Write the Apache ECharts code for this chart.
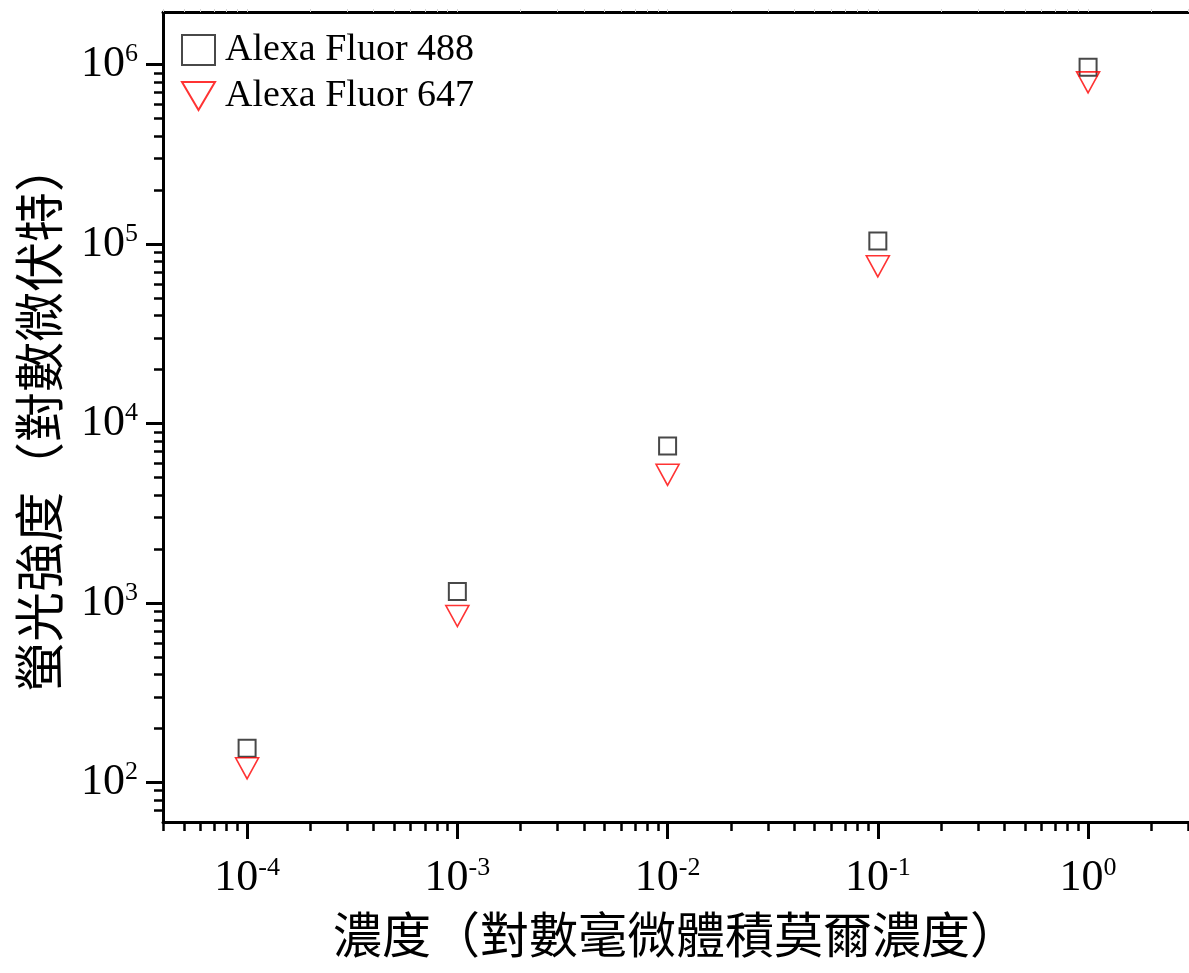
<!DOCTYPE html>
<html>
<head>
<meta charset="utf-8">
<script src="https://cdn.jsdelivr.net/npm/echarts@6.0.0/dist/echarts.min.js"></script>
<style>
  html, body { margin: 0; padding: 0; background: #fff; }
  #chart { width: 1189px; height: 973px; }
</style>
</head>
<body>
<div id="chart"></div>
<script>
// Concentrations (mM) and measured fluorescence intensities (µV)
const concentrations = [1e-4, 1e-3, 1e-2, 1e-1, 1];
const alexa488 = [155, 1160, 7500, 104000, 965000];
const alexa647 = [120, 847, 5180, 75200, 796000];
const seriesNames = ['Alexa Fluor 488', 'Alexa Fluor 647'];

// Decade exponents that get a labelled major tick
const xTickExponents = [-4, -3, -2, -1, 0];
const yTickExponents = [2, 3, 4, 5, 6];

const xTitle = '濃度（對數毫微體積莫爾濃度）';
const yTitle = '螢光強度（對數微伏特）';

// Both axes are drawn in log10 space
const X_MIN = -4.4, X_MAX = 0.48;
const Y_MIN = 1.78, Y_MAX = 6.293;

const SERIF = '"Liberation Serif", "Times New Roman", serif';
const CJK = '"Noto Sans CJK TC", "Noto Sans CJK SC", sans-serif';

// log-spaced minor ticks (2..9 × 10^n) inside [lo, hi]
function minorTicks(lo, hi) {
  const out = [];
  for (let d = Math.floor(lo) - 1; d <= Math.ceil(hi); d++) {
    for (let k = 2; k <= 9; k++) {
      const v = d + Math.log10(k);
      if (v > lo && v < hi) out.push(v);
    }
  }
  return out;
}

const toPoints = vals => concentrations.map((c, i) => [Math.log10(c), Math.log10(vals[i])]);

const powerLabel = (values, margin) => ({
  show: true,
  customValues: values,
  margin: margin,
  formatter: v => '{b|10}{s|' + Math.round(v) + '}',
  rich: {
    b: { fontFamily: SERIF, fontSize: 44, lineHeight: 46, verticalAlign: 'middle', color: '#000' },
    s: { fontFamily: SERIF, fontSize: 26, lineHeight: 26, verticalAlign: 'top', color: '#000' }
  }
});

const axisBase = {
  type: 'value',
  splitLine: { show: false },
  nameMoveOverlap: false
};

const chart = echarts.init(document.getElementById('chart'), null, { renderer: 'canvas' });

chart.setOption({
  animation: false,
  backgroundColor: '#fff',
  grid: { left: 163, right: -4, top: 12, bottom: 151, containLabel: false },
  legend: {
    orient: 'vertical',
    left: 181,
    top: 31,
    padding: 0,
    itemWidth: 33,
    itemHeight: 30,
    itemGap: 8,
    selectedMode: false,
    textStyle: { fontFamily: SERIF, fontSize: 38, color: '#000', padding: [0, 0, 0, 5] },
    data: [
      { name: seriesNames[0], icon: 'rect' },
      { name: seriesNames[1], icon: 'path://M0,0 L20,0 L10,17 Z' }
    ]
  },
  xAxis: [
    Object.assign({}, axisBase, {
      position: 'bottom', min: X_MIN, max: X_MAX,
      name: xTitle, nameLocation: 'middle', nameGap: 88,
      nameTextStyle: { fontFamily: CJK, fontSize: 49, color: '#000', verticalAlign: 'top' },
      axisLine: { show: true, onZero: false, lineStyle: { color: '#000', width: 3 } },
      axisTick: { show: true, inside: false, length: 17, customValues: xTickExponents, lineStyle: { color: '#000', width: 3 } },
      axisLabel: powerLabel(xTickExponents, 33)
    }),
    Object.assign({}, axisBase, {
      position: 'bottom', min: X_MIN, max: X_MAX,
      axisLine: { show: false, onZero: false },
      axisTick: { show: true, inside: false, length: 9, customValues: minorTicks(X_MIN, X_MAX), lineStyle: { color: '#000', width: 2.5 } },
      axisLabel: { show: false }
    }),
    Object.assign({}, axisBase, {
      position: 'top', min: X_MIN, max: X_MAX,
      axisLine: { show: true, onZero: false, lineStyle: { color: '#000', width: 3 } },
      axisTick: { show: true, inside: false, length: 3, customValues: xTickExponents.concat(minorTicks(X_MIN, X_MAX)), lineStyle: { color: '#d4d4d4', width: 1 } },
      axisLabel: { show: false }
    })
  ],
  yAxis: [
    Object.assign({}, axisBase, {
      position: 'left', min: Y_MIN, max: Y_MAX,
      name: yTitle, nameLocation: 'middle', nameGap: 99, nameRotate: 90,
      nameTextStyle: { fontFamily: CJK, fontSize: 50, color: '#000' },
      axisLine: { show: true, onZero: false, lineStyle: { color: '#000', width: 3 } },
      axisTick: { show: true, inside: false, length: 17, customValues: yTickExponents, lineStyle: { color: '#000', width: 3 } },
      axisLabel: powerLabel(yTickExponents, 25)
    }),
    Object.assign({}, axisBase, {
      position: 'left', min: Y_MIN, max: Y_MAX,
      axisLine: { show: false, onZero: false },
      axisTick: { show: true, inside: false, length: 9, customValues: minorTicks(Y_MIN, Y_MAX), lineStyle: { color: '#000', width: 2.5 } },
      axisLabel: { show: false }
    })
  ],
  series: [
    {
      name: seriesNames[0],
      type: 'scatter',
      xAxisIndex: 0, yAxisIndex: 0,
      symbol: 'rect',
      symbolSize: 17,
      itemStyle: { color: 'transparent', borderColor: '#1a1a1a', borderWidth: 2 },
      emphasis: { disabled: true },
      data: toPoints(alexa488)
    },
    {
      name: seriesNames[1],
      type: 'scatter',
      xAxisIndex: 0, yAxisIndex: 0,
      symbol: 'triangle',
      symbolRotate: 180,
      symbolSize: [23, 21],
      itemStyle: { color: 'transparent', borderColor: '#ff0000', borderWidth: 1.6 },
      emphasis: { disabled: true },
      data: toPoints(alexa647)
    }
  ]
});
</script>
</body>
</html>
